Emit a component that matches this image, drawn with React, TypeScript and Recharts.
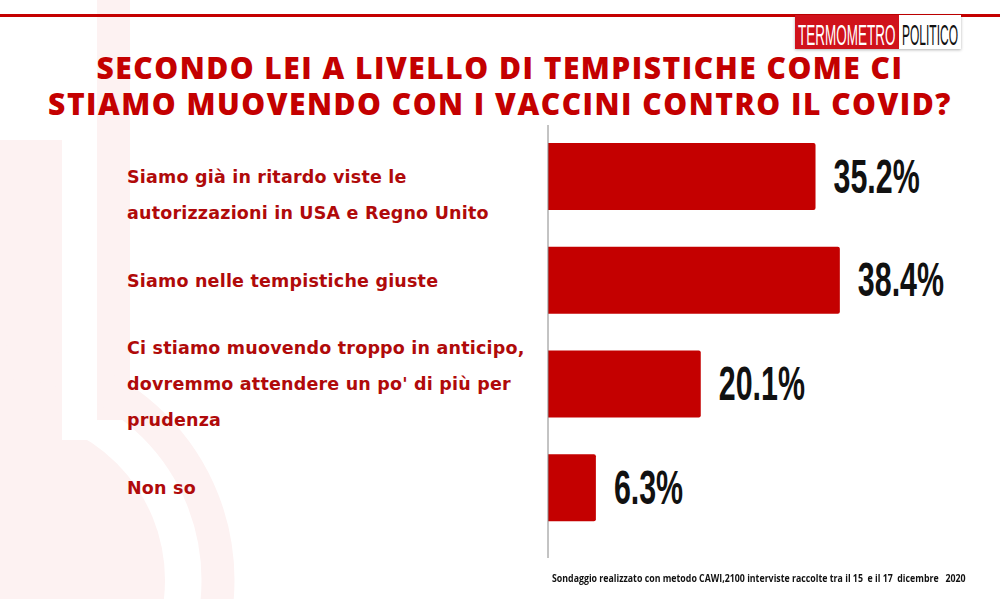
import React from "react";
import { BarChart, Bar, XAxis, YAxis, LabelList, ReferenceLine } from "recharts";

const categories = [
  "Siamo già in ritardo viste le|autorizzazioni in USA e Regno Unito",
  "Siamo nelle tempistiche giuste",
  "Ci stiamo muovendo troppo in anticipo,|dovremmo attendere un po' di più per|prudenza",
  "Non so",
];
const values = [35.2, 38.4, 20.1, 6.3];

const titleLines = [
  "SECONDO LEI A LIVELLO DI TEMPISTICHE COME CI",
  "STIAMO MUOVENDO CON I VACCINI CONTRO IL COVID?",
];
const footnote =
  "Sondaggio realizzato con metodo CAWI,2100 interviste raccolte tra il 15\u00a0 e il 17\u00a0 dicembre \u00a0 2020";

const data = categories.map((c, i) => ({ name: c, value: values[i] }));

const RED = "#c40000";
const LABEL_RED = "#b00a0a";
const WM = "#fdf2f2";

const CategoryTick = ({ y, payload }: any) => {
  const lines = String(payload.value).split("|");
  const lh = 36;
  const start = -Math.floor((lines.length - 1) / 2) * lh;
  return (
    <text
      x={127}
      y={y + start}
      fill={LABEL_RED}
      fontFamily="'DejaVu Sans', sans-serif"
      fontWeight={700}
      fontSize={17.5}
      letterSpacing={0.2}
      textAnchor="start"
      dominantBaseline="central"
    >
      {lines.map((l, i) => (
        <tspan key={i} x={127} dy={i === 0 ? 0 : lh}>
          {l}
        </tspan>
      ))}
    </text>
  );
};

const ValueLabel = ({ x, y, width, height, value }: any) => {
  const tx = x + width + 18;
  const ty = y + height / 2 + 16;
  return (
    <text
      transform={`translate(${tx},${ty}) scale(0.76,1.2)`}
      fill="#111"
      fontFamily="'Liberation Sans', Arial, sans-serif"
      fontWeight={700}
      fontSize={40}
    >
      {`${value.toFixed(1)}%`}
    </text>
  );
};

export default function App() {
  return (
    <div
      style={{
        position: "absolute",
        left: 0,
        top: 0,
        width: 1000,
        height: 599,
        background: "#fff",
        overflow: "hidden",
      }}
    >
      {/* faint watermark + title + logo */}
      <svg width={1000} height={599} style={{ position: "absolute", left: 0, top: 0 }}>
        <rect x={0} y={140} width={62} height={330} fill={WM} />
        <circle cx={0} cy={580} r={165} fill={WM} />
        <rect x={97} y={0} width={33} height={420} fill={WM} />
        <circle cx={0} cy={580} r={218} fill="none" stroke={WM} strokeWidth={33} />
        <rect x={62} y={0} width={35} height={440} fill="#fff" />

        <rect x={0} y={14} width={1000} height={3} fill={RED} />
        <rect x={795} y={15} width={166} height={34} fill="#fff" style={{ filter: "drop-shadow(0 1px 1.5px rgba(0,0,0,0.3))" }} />
        <rect x={795} y={15} width={104} height={34} fill="#d0121b" />
        <text transform="translate(798,45) scale(0.45,1)" fill="#fff" fontFamily="'Liberation Sans', sans-serif" fontSize={30}>
          TERMOMETRO
        </text>
        <text transform="translate(902,45) scale(0.4,1)" fill="#111" fontFamily="'Liberation Sans', sans-serif" fontSize={30}>
          POLITICO
        </text>

        {titleLines.map((t, i) => (
          <text
            key={i}
            x={500}
            y={79 + i * 36}
            textAnchor="middle"
            fill={RED}
            fontFamily="'Open Sans', sans-serif"
            fontWeight={800}
            fontSize={30}
            letterSpacing={1.5}
          >
            {t}
          </text>
        ))}
      </svg>

      <div style={{ position: "absolute", left: 0, top: 0 }}>
        <BarChart
          width={1000}
          height={599}
          data={data}
          layout="vertical"
          margin={{ top: 125, right: 72, bottom: 41, left: 0 }}
        >
          <XAxis type="number" domain={[0, 50]} hide />
          <YAxis
            type="category"
            dataKey="name"
            width={548}
            axisLine={false}
            tickLine={false}
            padding={{ top: 0, bottom: 18 }}
            tick={<CategoryTick />}
          />
          <ReferenceLine x={0} stroke="#888" strokeWidth={1} />
          <Bar dataKey="value" fill={RED} barSize={67} radius={[0, 2, 2, 0]} isAnimationActive={false}>
            <LabelList dataKey="value" content={<ValueLabel />} />
          </Bar>
        </BarChart>
      </div>

      {/* footnote */}
      <div
        style={{
          position: "absolute",
          left: 552,
          top: 571,
          color: "#111",
          fontFamily: "'Open Sans', sans-serif",
          fontWeight: 700,
          fontSize: 10,
          whiteSpace: "nowrap",
          transform: "scaleX(0.88)",
          transformOrigin: "left center",
        }}
      >
        {footnote}
      </div>
    </div>
  );
}
